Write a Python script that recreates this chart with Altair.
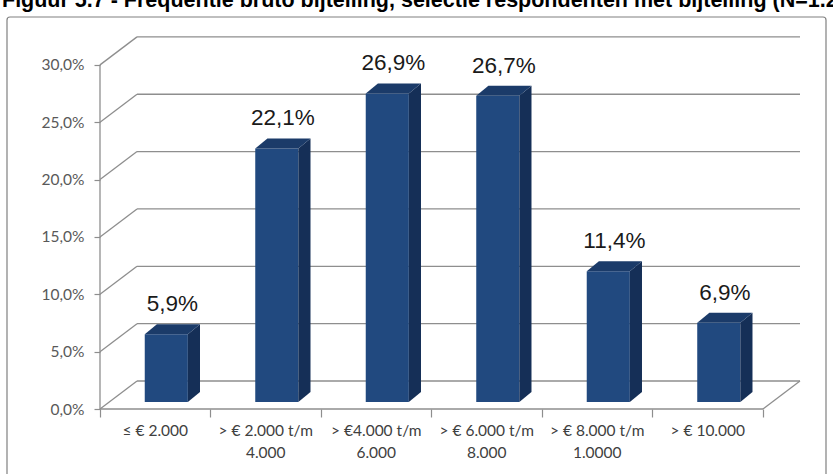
import altair as alt
import pandas as pd

# ---------------- data ----------------
TITLE = "Figuur 5.7 - Frequentie bruto bijtelling, selectie respondenten met bijtelling (N=1.234)"
categories = [
    "≤ € 2.000",
    "> € 2.000 t/m\n4.000",
    "> €4.000 t/m\n6.000",
    "> € 6.000 t/m\n8.000",
    "> € 8.000 t/m\n1.0000",
    "> € 10.000",
]
values = [5.9, 22.1, 26.9, 26.7, 11.4, 6.9]
y_ticks = [0, 5, 10, 15, 20, 25, 30]

# ---------------- geometry (styles, in data units) ----------------
W, H = 700, 372
N = len(categories)
X_MAX = 6.335          # category units incl. back-wall depth
Y_MAX = 32.43          # percent incl. back-wall depth
DEPTH_X, DEPTH_Y = 0.335, 2.44
BAR_LEFT, BAR_W = 0.405, 0.39
BAR_BASE = 0.61
BAR_DX, BAR_DY = 0.11, 0.87

FRONT = "#21497f"
SIDE = "#152f57"
TOP = "#1b3b69"
GRID = "#8e8e8e"

xs = alt.Scale(domain=[0, X_MAX], nice=False, zero=False)
ys = alt.Scale(domain=[0, Y_MAX], nice=False, zero=False)

x_axis = alt.Axis(values=list(range(N + 1)), labels=False, domain=False, grid=False,
                  tickSize=8, tickColor=GRID, tickWidth=1.2, title=None)
y_axis = alt.Axis(values=y_ticks, domain=False, grid=False, tickSize=6, tickColor=GRID,
                  tickWidth=1.2, title=None, labelColor="#595959", labelFont="Lato",
                  labelFontSize=15.5, labelPadding=10,
                  labelExpr="replace(format(datum.value, '.1f'), '.', ',') + '%'")


def X(f):
    return alt.X(f"{f}:Q", scale=xs, axis=x_axis)


def X2(f):
    return alt.X2(f"{f}:Q")


def Y(f):
    return alt.Y(f"{f}:Q", scale=ys, axis=y_axis)


def Y2(f):
    return alt.Y2(f"{f}:Q")


# grid tables
grid = pd.DataFrame({"v": y_ticks})
grid["v2"] = grid["v"] + DEPTH_Y
grid["x0"] = 0.0
grid["xd"] = DEPTH_X
grid["xm"] = X_MAX

frame_lines = pd.DataFrame({
    "x": [0.0, 0.0, float(N)],
    "x2": [0.0, float(N), X_MAX],
    "y": [0.0, 0.0, 0.0],
    "y2": [float(y_ticks[-1]), 0.0, DEPTH_Y],
})

# bars
bars = pd.DataFrame({"i": range(N), "cat": categories, "val": values})
bars["xl"] = bars["i"] + BAR_LEFT
bars["xr"] = bars["xl"] + BAR_W
bars["yb"] = BAR_BASE
bars["yt"] = BAR_BASE + bars["val"]
bars["lx"] = bars["xl"] + (BAR_W + BAR_DX) / 2
bars["label"] = bars["val"].map(lambda v: f"{v:.1f}".replace(".", ",") + "%")
bars["cx"] = bars["i"] + 0.5

side_rows, top_rows = [], []
for _, r in bars.iterrows():
    side_rows += [
        {"b": r["i"], "x": r["xr"], "y": r["yb"], "y2": r["yt"]},
        {"b": r["i"], "x": r["xr"] + BAR_DX, "y": r["yb"] + BAR_DY, "y2": r["yt"] + BAR_DY},
    ]
    t = r["yt"]
    top_rows += [
        {"b": r["i"], "x": r["xl"], "y": t, "y2": t},
        {"b": r["i"], "x": r["xl"] + BAR_DX, "y": t, "y2": t + BAR_DY},
        {"b": r["i"], "x": r["xr"], "y": t, "y2": t + BAR_DY},
        {"b": r["i"], "x": r["xr"] + BAR_DX, "y": t + BAR_DY, "y2": t + BAR_DY},
    ]
side = pd.DataFrame(side_rows)
top = pd.DataFrame(top_rows)

# ---------------- layers ----------------
diag = alt.Chart(grid).mark_rule(color=GRID, strokeWidth=1.3).encode(
    x=X("x0"), x2=X2("xd"), y=Y("v"), y2=Y2("v2"))
back = alt.Chart(grid).mark_rule(color=GRID, strokeWidth=1.3).encode(
    x=X("xd"), x2=X2("xm"), y=Y("v2"))
front_lines = alt.Chart(frame_lines).mark_rule(color=GRID, strokeWidth=1.3).encode(
    x=X("x"), x2=X2("x2"), y=Y("y"), y2=Y2("y2"))

front = alt.Chart(bars).mark_rect(color=FRONT).encode(
    x=X("xl"), x2=X2("xr"), y=Y("yb"), y2=Y2("yt"))
side_l = alt.Chart(side).mark_area(color=SIDE, interpolate="linear").encode(
    x=X("x"), y=Y("y"), y2=Y2("y2"), detail="b:N")
top_l = alt.Chart(top).mark_area(color=TOP, interpolate="linear").encode(
    x=X("x"), y=Y("y"), y2=Y2("y2"), detail="b:N")

vlabels = alt.Chart(bars).mark_text(font="Liberation Sans", fontSize=22.5, color="#1a1a1a",
                                    baseline="middle", dy=-30).encode(
    x=X("lx"), y=Y("yt"), text="label:N")

clabels = alt.Chart(bars).mark_text(font="Lato", fontSize=15.5, color="#404040",
                                    baseline="top", lineBreak="\n", lineHeight=22).encode(
    x=X("cx"), y=alt.value(H + 15), text="cat:N")

title = alt.Chart(pd.DataFrame({"t": [TITLE]})).mark_text(
    font="Liberation Sans", fontSize=21.5, fontWeight="bold", color="#000000",
    align="left", baseline="alphabetic").encode(
    x=alt.value(-98), y=alt.value(-30), text="t:N")

frame = alt.Chart(pd.DataFrame({"a": [0]})).mark_rect(
    filled=False, stroke="#808080", strokeWidth=1.2, cornerRadius=3).encode(
    x=alt.value(-93), x2=alt.value(726), y=alt.value(-20), y2=alt.value(480))

chart = alt.layer(
    frame, title, diag, back, front_lines, front, side_l, top_l, vlabels, clabels
).properties(
    width=W, height=H,
    autosize=alt.AutoSizeParams(type="none"),
    padding={"left": 100, "top": 37, "right": 33, "bottom": 65},
    background="white",
).configure_view(strokeOpacity=0)

chart.save("out.html", embed_options={"renderer": "svg", "actions": False})
